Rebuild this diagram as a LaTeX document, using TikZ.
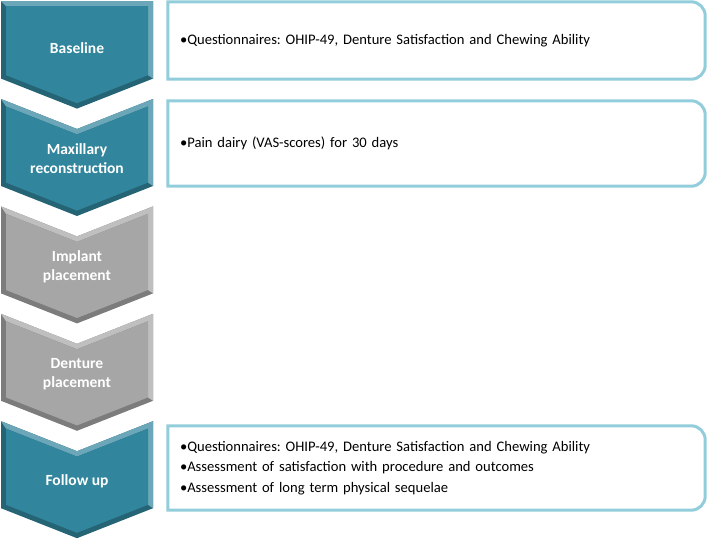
\documentclass[tikz,border=0pt]{standalone}
\usepackage{fontspec}
\setmainfont{Carlito}
\frenchspacing
\definecolor{stepteal}{HTML}{31859C}
\definecolor{stepgray}{HTML}{A6A6A6}
\definecolor{boxblue}{HTML}{92CDDC}

% bevelled chevron: #1 top of sides, #2 notch depth, #3 bottom of sides, #4 colour
\newcommand{\chevron}[4]{%
  \fill[#4!75!black] (1,#1) -- (77,#1+#2) -- (153,#1) -- (153,#3) -- (77,#3+30) -- (1,#3) -- cycle;
  \fill[#4!72!white] (1,#1) -- (77,#1+#2) -- (153,#1) -- (153,#3) -- (148,#3-3.4)
    -- (148,#1+5+0.08*#2) -- (77,#1+#2+5+0.0133*#2) -- (6,#1+5+0.08*#2) -- cycle;
  \fill[#4] (6,#1+5+0.08*#2) -- (77,#1+#2+5+0.0133*#2) -- (148,#1+5+0.08*#2)
    -- (148,#3-3.4) -- (77,#3+24.6) -- (6,#3-3.4) -- cycle;
}
% outline with the two right corners rounded
\newcommand{\roundright}[1]{%
  \draw[boxblue, line width=3pt] (#1.south west) -- (#1.north west)
    -- ([xshift=-14pt]#1.north east) arc[start angle=90, end angle=0, radius=14pt]
    -- ([yshift=14pt]#1.south east) arc[start angle=0, end angle=-90, radius=14pt] -- cycle;
}

\begin{document}
\begin{tikzpicture}[x=1pt, y=-1pt,
    step label/.style={text=white, align=center, font=\bfseries\fontsize{15.5}{19}\selectfont},
    info box/.style={minimum width=537pt, text width=513pt, inner xsep=12pt, inner ysep=0pt,
      align=left, font=\fontsize{14.6}{20.5}\selectfont}]
  \useasboundingbox (0,0) rectangle (709,541);

  % chevrons
  \chevron{1}{0}{78.6}{stepteal}
  \chevron{99}{30}{186}{stepteal}
  \chevron{206.4}{30}{293.4}{stepgray}
  \chevron{313.8}{30}{400.8}{stepgray}
  \chevron{421.2}{30}{508.2}{stepteal}

  \node[step label] (base) at (77,48) {Baseline};
  \node[step label] (maxil) at (77,159) {Maxillary\\reconstruction};
  \node[step label] (impl) at (77,266.5) {Implant\\placement};
  \node[step label] (dent) at (77,373.8) {Denture\\placement};
  \node[step label] (follow) at (77,481) {Follow up};

  % boxes
  \node[info box, minimum height=77pt] (box1) at (436.5,40.5)
    {•Questionnaires: OHIP-49, Denture Satisfaction and Chewing Ability};
  \node[info box, minimum height=85pt] (box2) at (436.5,143.5)
    {•Pain dairy (VAS-scores) for 30 days};
  \node[info box, minimum height=84pt] (box5) at (436.5,468)
    {•Questionnaires: OHIP-49, Denture Satisfaction and Chewing Ability\\
     •Assessment of satisfaction with procedure and outcomes\\
     •Assessment of long term physical sequelae};
  \roundright{box1}
  \roundright{box2}
  \roundright{box5}
\end{tikzpicture}
\end{document}
